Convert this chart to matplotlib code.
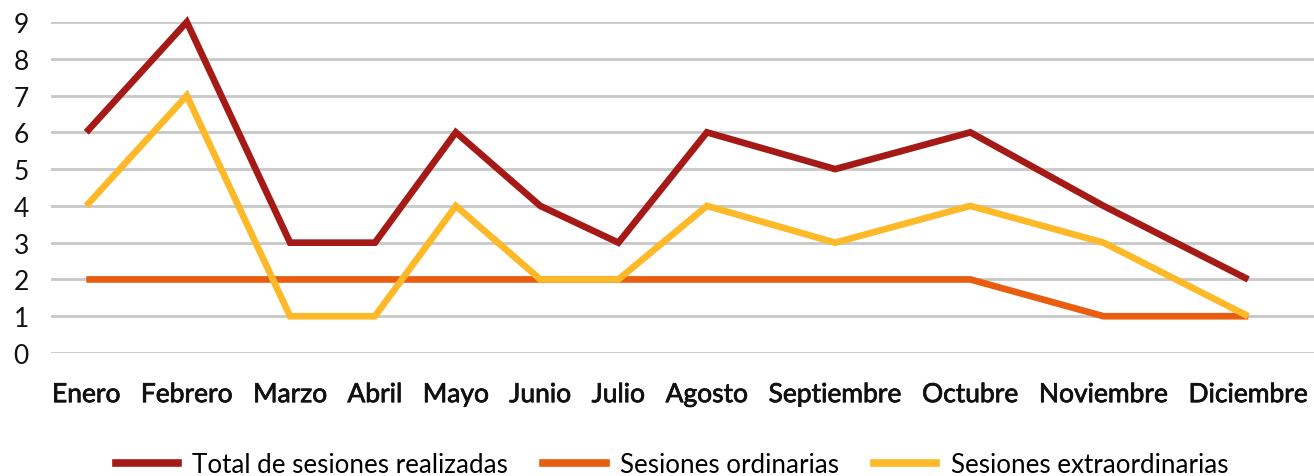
import matplotlib
matplotlib.use("Agg")
from matplotlib import pyplot as plt
from matplotlib.lines import Line2D
import matplotlib.patheffects as pe

plt.rcParams['font.family'] = ['Lato', 'DejaVu Sans']

# data
months = ["Enero", "Febrero", "Marzo", "Abril", "Mayo", "Junio", "Julio",
          "Agosto", "Septiembre", "Octubre", "Noviembre", "Diciembre"]
total = [6, 9, 3, 3, 6, 4, 3, 6, 5, 6, 4, 2]
ordinarias = [2, 2, 2, 2, 2, 2, 2, 2, 2, 2, 1, 1]
extraordinarias = [4, 7, 1, 1, 4, 2, 2, 4, 3, 4, 3, 1]
series_names = ["Total de sesiones realizadas", "Sesiones ordinarias", "Sesiones extraordinarias"]
colors = ["#A51A17", "#E85D0F", "#FDB927"]

W, H = 1314, 477
fig = plt.figure(figsize=(W / 100, H / 100), dpi=100)
ax = fig.add_axes([51 / W, (H - 354) / H, (W - 51) / W, (354 - 23) / H])

# category labels are laid out side by side with an equal gap,
# the points sit on the label centres
lab_kw = dict(fontsize=19, color='#111111')
renderer = fig.canvas.get_renderer()
widths = []
for m in months:
    t = fig.text(0, 0, m, **lab_kw)
    widths.append(t.get_window_extent(renderer).width)
    t.remove()
row_left, row_right = 52, 1308
gap = (row_right - row_left - sum(widths)) / (len(months) - 1)
x_pos = []
left = row_left
for w in widths:
    x_pos.append(left + w / 2)
    left += w + gap

ax.set_xlim(51, W)
ax.set_ylim(0, 9)

for vals, c in zip([total, ordinarias, extraordinarias], colors):
    ax.plot(x_pos, vals, color=c, lw=4.8, solid_joinstyle='miter',
            solid_capstyle='butt', clip_on=False, zorder=3)

ax.set_yticks(range(10))
ax.set_xticks(x_pos)
ax.set_xticklabels(months, **lab_kw)
# labels are a bit heavier than regular Lato
for t in ax.get_xticklabels():
    t.set_path_effects([pe.withStroke(linewidth=0.55, foreground='#111111')])
ax.tick_params(axis='y', length=0, pad=16, labelsize=19, labelcolor='#111111')
ax.tick_params(axis='x', length=0, pad=21)
ax.grid(axis='y', color='#C8C8C8', lw=2)
ax.set_axisbelow(True)
for s in ax.spines.values():
    s.set_visible(False)

handles = [Line2D([], [], color=c, lw=5.5) for c in colors]
fig.legend(handles, series_names, loc='center', bbox_to_anchor=(672 / W, 1 - 466 / H),
           ncol=3, frameon=False, fontsize=18.7, handlelength=2.4,
           handletextpad=0.55, columnspacing=1.35)

fig.savefig("out.png", dpi=100)
